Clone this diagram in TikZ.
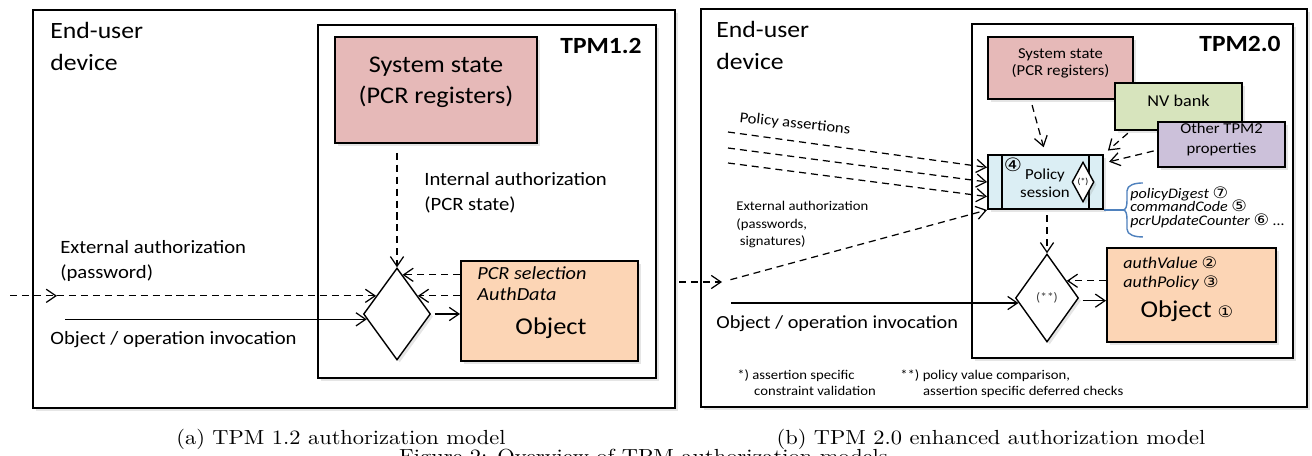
\documentclass[tikz,border=0pt]{standalone}
\usepackage{fontspec}
\setmainfont{lmroman10-regular.otf}[FakeStretch=1.1]
\setsansfont{Carlito}[FakeStretch=1.1]
\newfontfamily\circfont{DejaVu Sans}[FakeStretch=1.1]
\usetikzlibrary{arrows.meta,positioning,shapes.geometric,fit,shadows}

\definecolor{statered}{HTML}{E6B9B8}
\definecolor{nvgreen}{HTML}{D7E4BD}
\definecolor{otherlilac}{HTML}{CCC1DA}
\definecolor{sessblue}{HTML}{DBEEF4}
\definecolor{objpeach}{HTML}{FCD5B5}
\definecolor{bracecol}{HTML}{4F81BD}

\newcommand*\pix{0.02cm}
\newcommand*\tsz[2]{\fontsize{#1}{#2}\selectfont}
\newcommand*\circnum[1]{{\circfont\upshape\tsz{9}{10}#1}}
\newcommand*\tightlines{\lineskiplimit=-10pt\relax}

\begin{document}
\begin{tikzpicture}[x=0.02cm, y=-0.02cm,
	softshadow/.style={drop shadow={shadow xshift=1.5pt, shadow yshift=-1.5pt, opacity=0.2}},
	frame/.style={draw, fill=white, softshadow, line width=1.3pt},
	box/.style={draw, softshadow, line width=1.1pt, inner sep=0pt, align=center, font=\sffamily},
	decide/.style={diamond, draw, fill=white, softshadow, line width=0.8pt, inner sep=0pt, font=\sffamily},
	flow/.style={line width=0.7pt, -{Straight Barb[length=5.5pt, width=7.5pt]}},
	dflow/.style={flow, dash pattern=on 4pt off 2.8pt},
	lbl/.style={inner sep=0pt, align=left, font=\sffamily}]
	
	\useasboundingbox (0,0) rectangle (1312,456);
	\clip (0,0) rectangle (1312,456);
	
	% TPM 1.2
	\draw[frame] (33,10) rectangle (675,408);
	\draw[frame] (318,25) rectangle (656,378);
	\node[lbl, anchor=north west, font=\sffamily\tsz{13.3}{18}] (devA) at (50,22) {End-user\\device};
	\node[lbl, anchor=base east, font=\sffamily\bfseries\tsz{13.2}{16}] (tpmA) at (642,54) {TPM1.2};
	\node[box, fill=statered, fit={(335,37) (537,143)}, font=\sffamily\tsz{13.6}{18}] (sysA) {System state\\(PCR registers)};
	\node[decide, minimum width=67*\pix, minimum height=92*\pix] (decA) at (397,314) {};
	\node[box, fill=objpeach, fit={(461,261) (638,361)}] (objA) {};
	\node[lbl, anchor=north west, font=\sffamily\itshape\tsz{10.5}{12}] (selA) at (477,266) {PCR selection\\AuthData};
	\node[lbl, anchor=base, font=\sffamily\tsz{13.7}{16}] (nameA) at (551,334) {Object};
	\node[lbl, anchor=north west, font=\sffamily\tsz{10.7}{14.2}] (intA) at (424,172) {Internal authorization\\(PCR state)};
	\node[lbl, anchor=north west, font=\sffamily\tsz{10.7}{14.2}] (extA) at (60,240) {External authorization\\(password)};
	\node[lbl, anchor=base west, font=\sffamily\tsz{10.7}{13}] (invtxtA) at (50,344) {Object / operation invocation};
	\coordinate (inA) at (10,0);
	\coordinate (midA) at (57,0);
	\coordinate (invA) at (65,0);
	
	\draw[dflow] ([yshift=-5pt]sysA.south -| decA.north) -- (decA.north);
	\draw[dflow] (decA.82 -| objA.west) -- (decA.82);
	\draw[dflow] (decA.41 -| objA.west) -- (decA.41);
	\draw[dflow] (inA |- decA.139) -- (midA |- decA.139);
	\draw[dflow] (midA |- decA.139) -- (decA.139);
	\draw[flow] (invA |- decA.190) -- (decA.190);
	\draw[flow, shorten <=2pt] (decA.east) -- (decA.east -| objA.west);
	
	% TPM 2.0
	\draw[frame] (701,9) rectangle (1307,407);
	\draw[frame] (972,24) rectangle (1293,358);
	\node[lbl, anchor=north west, font=\sffamily\tsz{13.3}{18}] (devB) at (716,21) {End-user\\device};
	\node[lbl, anchor=base east, font=\sffamily\bfseries\tsz{13.2}{16}] (tpmB) at (1281,52) {TPM2.0};
	\node[box, fill=statered, fit={(988,37) (1133,99)}, font=\sffamily\tsz{8.6}{9.5}] (sysB) {System state\\(PCR registers)\\[2pt]};
	\node[box, fill=nvgreen, fit={(1115,83) (1242,130)}, font=\sffamily\tsz{9.4}{11}] (nvB) {NV bank};
	\node[box, fill=otherlilac, fit={(1158,122) (1285,167)}, font=\sffamily\tsz{8.6}{11.3}] (othB) {Other TPM2\\properties};
	\node[box, fill=sessblue, fit={(988,155) (1103,209)}] (sessB) {};
	\draw[line width=1.1pt] ([xshift=15*\pix]sessB.north west) -- ([xshift=15*\pix]sessB.south west);
	\draw[line width=1.1pt] ([xshift=-15*\pix]sessB.north east) -- ([xshift=-15*\pix]sessB.south east);
	\node[lbl, align=center, font=\sffamily\tsz{8.7}{10.5}] (sesstxt) at (1045,183) {Policy\\session};
	\node[inner sep=0pt, font=\circfont\tsz{10.5}{12}] (numB) at (1013,165) {④};
	\node[decide, minimum width=22*\pix, minimum height=40*\pix, font=\sffamily\tsz{5}{6}] (chkB) at (1083,182) {(*)};
	\node[decide, minimum width=63*\pix, minimum height=88*\pix, font=\sffamily\tsz{7}{8}, text=black!75] (decB) at (1047,298) {(**)};
	\node[box, fill=objpeach, fit={(1107,248) (1276,342)}] (objB) {};
	\node[lbl, anchor=north west, font=\sffamily\itshape\tsz{9.3}{11.3}] (authB) at (1123,256) {authValue \circnum{②}\\authPolicy \circnum{③}};
	\node[lbl, anchor=base, font=\sffamily\tsz{13.7}{16}] (nameB) at (1187,317) {Object \circnum{①}};
	\node[lbl, anchor=north west, font=\sffamily\itshape\tsz{8.3}{7.9}\tightlines] (varsB) at (1130,186) {policyDigest \circnum{⑦}\\commandCode \circnum{⑤}\\pcrUpdateCounter \circnum{⑥} ...};
	\node[lbl, rotate=-6, font=\sffamily\tsz{8.6}{10}] (polB) at (795,124) {Policy assertions};
	\node[lbl, anchor=north west, font=\sffamily\tsz{7.6}{9.9}] (extB) at (736,201) {External authorization\\(passwords,\\\hspace*{2pt}signatures)};
	\node[lbl, anchor=base west, font=\sffamily\tsz{10.5}{13}] (invtxtB) at (716,328) {Object / operation invocation};
	\node[lbl, anchor=north west, font=\sffamily\tsz{7.6}{9.6}] (noteA) at (737,369) {*) assertion specific\\\hspace*{9.6pt}constraint validation};
	\node[lbl, anchor=north west, font=\sffamily\tsz{7.6}{9.6}] (noteB) at (900,369) {**) policy value comparison,\\\hspace*{13pt}assertion specific deferred checks};
	\coordinate (inB) at (679,282);
	\coordinate (midB) at (722,282);
	\coordinate (invB) at (731,0);
	
	\draw[dflow, shorten <=3pt, shorten >=4pt] (sysB.227) -- (sessB.north);
	\draw[dflow, shorten <=2pt, shorten >=3pt] (nvB.207) -- (sessB.north east);
	\draw[dflow, shorten <=2pt, shorten >=3pt] (othB.185) -- (sessB.18);
	\foreach \ys/\ang [count=\i] in {132/166, 148/180, 163/194}
	{
		\coordinate (pa\i) at (728,\ys);
		\draw[dflow] (pa\i) -- (sessB.\ang);
	}
	\draw[dflow] (inB) -- (midB);
	\draw[dflow, shorten <=5pt] (midB) -- (sessB.south west);
	\draw[dflow, shorten <=3pt] (sessB.south -| decB.north) -- (decB.north);
	\draw[dflow] (decB.41 -| objB.west) -- (decB.41);
	\draw[flow, shorten <=3pt] (decB.355) -- (decB.355 -| objB.west);
	\draw[flow] (invB |- decB.190) -- (decB.190);
	\draw[bracecol, line width=0.8pt] (sessB.south east) -- ++(19,0) coordinate (brt);
	\draw[bracecol, line width=0.8pt] (brt) .. controls +(3,0) and +(0,5) .. ++(4,-9) -- ++(0,-10) .. controls +(0,-6) and +(-8,0) .. ++(16,-8);
	\draw[bracecol, line width=0.8pt] (brt) .. controls +(3,0) and +(0,-5) .. ++(4,9) -- ++(0,10) .. controls +(0,6) and +(-8,0) .. ++(16,8);
	
	% captions
	\node[anchor=base, font=\rmfamily\tsz{11.6}{14}] (capA) at (341,444) {(a) TPM 1.2 authorization model};
	\node[anchor=base, font=\rmfamily\tsz{11.6}{14}] (capB) at (991,444) {(b) TPM 2.0 enhanced authorization model};
	\node[anchor=base west, font=\rmfamily\tsz{11.6}{14}] (figcap) at (393,463) {Figure 2: Overview of TPM authorization models.};
\end{tikzpicture}
\end{document}
